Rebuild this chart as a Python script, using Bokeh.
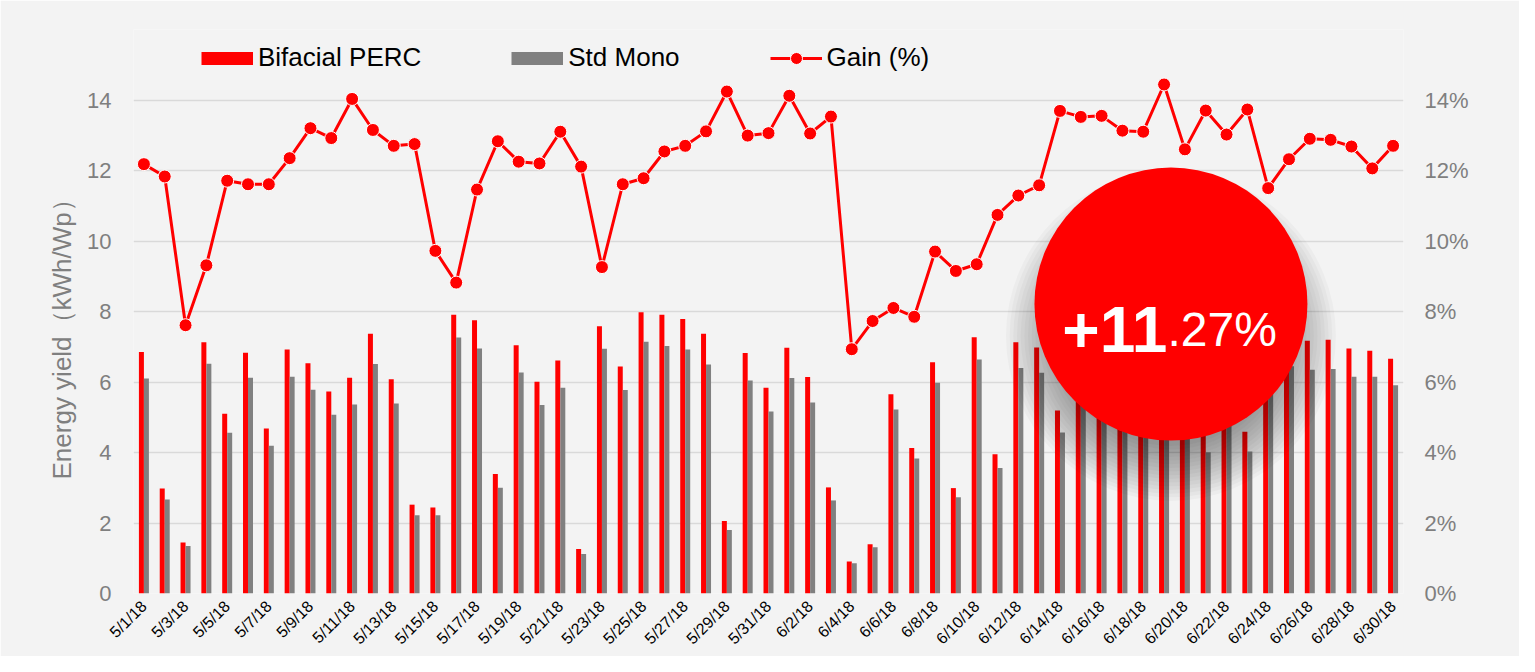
import math
import numpy as np
from bokeh.plotting import figure
from bokeh.models import (Range1d, LinearAxis, FixedTicker, PrintfTickFormatter,
                          Legend, LegendItem, ColumnDataSource, Title)
from bokeh.transform import dodge
from bokeh.core.properties import value
from bokeh.embed import file_html
from bokeh.resources import INLINE

# ---------------- data ----------------
dates = ["5/1/18", "5/2/18", "5/3/18", "5/4/18", "5/5/18", "5/6/18", "5/7/18", "5/8/18",
         "5/9/18", "5/10/18", "5/11/18", "5/12/18", "5/13/18", "5/14/18", "5/15/18",
         "5/16/18", "5/17/18", "5/18/18", "5/19/18", "5/20/18", "5/21/18", "5/22/18",
         "5/23/18", "5/24/18", "5/25/18", "5/26/18", "5/27/18", "5/28/18", "5/29/18",
         "5/30/18", "5/31/18", "6/1/18", "6/2/18", "6/3/18", "6/4/18", "6/5/18", "6/6/18",
         "6/7/18", "6/8/18", "6/9/18", "6/10/18", "6/11/18", "6/12/18", "6/13/18",
         "6/14/18", "6/15/18", "6/16/18", "6/17/18", "6/18/18", "6/19/18", "6/20/18",
         "6/21/18", "6/22/18", "6/23/18", "6/24/18", "6/25/18", "6/26/18", "6/27/18",
         "6/28/18", "6/29/18", "6/30/18"]

bifacial_perc = [6.85, 2.98, 1.45, 7.13, 5.10, 6.83, 4.68, 6.92, 6.53, 5.73, 6.12, 7.37,
                 6.08, 2.52, 2.44, 7.91, 7.75, 3.39, 7.04,
                 6.01, 6.61, 1.26, 7.58, 6.44, 7.98, 7.91, 7.79, 7.37, 2.06, 6.82, 5.84,
                 6.97, 6.14, 3.01, 0.91, 1.40, 5.65, 4.13, 6.56, 2.99, 7.27,
                 3.95, 7.13, 6.98, 5.19, 6.70, 6.93, 5.88, 6.79, 6.41, 6.98,
                 4.56, 6.67, 4.59, 6.58, 7.24, 7.17, 7.20, 6.95, 6.89, 6.66]

std_mono = [6.10, 2.67, 1.35, 6.52, 4.56, 6.12, 4.19, 6.15, 5.78, 5.07, 5.36, 6.51,
            5.39, 2.22, 2.22, 7.26, 6.95, 3.00, 6.27,
            5.35, 5.84, 1.12, 6.94, 5.77, 7.14, 7.02, 6.92, 6.50, 1.80, 6.04, 5.16,
            6.11, 5.42, 2.64, 0.86, 1.31, 5.22, 3.83, 5.98, 2.73, 6.64,
            3.56, 6.40, 6.26, 4.57, 5.90, 6.10, 5.20, 6.00, 5.60, 6.20,
            4.01, 5.90, 4.03, 5.90, 6.45, 6.35, 6.37, 6.15, 6.15, 5.91]

gain_pct = [12.18, 11.83, 7.61, 9.31, 11.71, 11.61, 11.61, 12.35, 13.20, 12.92, 14.03,
            13.15, 12.70, 12.75, 9.72, 8.82, 11.46, 12.83, 12.25,
            12.20, 13.10, 12.11, 9.26, 11.61, 11.78, 12.54, 12.70, 13.11, 14.24, 12.99, 13.06,
            14.12, 13.05, 13.53, 6.93, 7.73, 8.10, 7.85, 9.70, 9.15, 9.34,
            10.74, 11.29, 11.58, 13.69, 13.52, 13.55, 13.13, 13.10, 14.44, 12.60,
            13.70, 13.02, 13.73, 11.50, 12.32, 12.90, 12.87, 12.68, 12.06, 12.70]

left_ticks = [0, 2, 4, 6, 8, 10, 12, 14]
right_ticks = [0, 2, 4, 6, 8, 10, 12, 14]
series_names = ["Bifacial PERC", "Std Mono", "Gain (%)"]
y_label = "Energy yield（kWh/Wp）"
badge_main = "+11"
badge_dec = ".27%"

# ---------------- styling ----------------
RED = "#ff0000"
GRAY = "#808080"
BG = "#f3f3f3"
AXIS_GRAY = "#7f7f7f"
FONT = "Liberation Sans"
Y_TOP = 16.0   # frame extends above the 14 gridline to host the legend

idx = list(range(len(dates)))
src = ColumnDataSource(dict(x=idx, bif=bifacial_perc, std=std_mono, gain=gain_pct))

p = figure(width=1519, height=656,
           x_range=Range1d(-0.5, len(dates) - 0.5), y_range=Range1d(0, Y_TOP),
           output_backend="svg", toolbar_location=None,
           min_border_left=133, min_border_right=116, min_border_top=29, min_border_bottom=62,
           background_fill_color=BG, border_fill_color=BG, outline_line_color=None)
p.extra_y_ranges = {"gain": Range1d(0, Y_TOP)}

# left axis
ly = p.yaxis[0]
ly.ticker = FixedTicker(ticks=left_ticks)
ly.major_label_text_font = FONT
ly.major_label_text_font_size = "22px"
ly.major_label_text_color = AXIS_GRAY
ly.major_label_standoff = 22
ly.axis_line_color = None
ly.major_tick_line_color = None
ly.minor_tick_line_color = None
ly.major_tick_out = 0
ly.major_tick_in = 0

# left axis title (side title anchored from the bottom of the frame)
yt = Title(text=y_label, align="left", offset=114, standoff=16,
           text_font=FONT, text_font_size="26px", text_font_style="normal",
           text_color=AXIS_GRAY)
p.add_layout(yt, "left")

# right axis
ry = LinearAxis(y_range_name="gain", ticker=FixedTicker(ticks=right_ticks),
                formatter=PrintfTickFormatter(format="%d%%"))
ry.major_label_text_font = FONT
ry.major_label_text_font_size = "22px"
ry.major_label_text_color = AXIS_GRAY
ry.major_label_standoff = 21
ry.axis_line_color = None
ry.major_tick_line_color = None
ry.minor_tick_line_color = None
ry.major_tick_out = 0
ry.major_tick_in = 0
p.add_layout(ry, "right")

# x axis
xa = p.xaxis[0]
label_ticks = idx[::2]
xa.ticker = FixedTicker(ticks=label_ticks)
xa.major_label_overrides = {i: dates[i] for i in label_ticks}
xa.major_label_orientation = math.pi / 4
xa.major_label_text_font = FONT
xa.major_label_text_font_size = "16px"
xa.major_label_text_color = "black"
xa.major_label_standoff = 10
xa.axis_line_color = None
xa.major_tick_line_color = None
xa.minor_tick_line_color = None
xa.major_tick_out = 0
xa.major_tick_in = 0

p.xgrid.grid_line_color = None
p.ygrid.ticker = FixedTicker(ticks=left_ticks)
p.ygrid.grid_line_color = "#d9d9d9"
p.ygrid.grid_line_width = 1.5

# bars
p.vbar(x=dodge("x", -0.12), top="bif", width=0.24, source=src,
       fill_color=RED, line_color=None)
p.vbar(x=dodge("x", 0.12), top="std", width=0.24, source=src,
       fill_color=GRAY, line_color=None)

# gain line
gl = p.line("x", "gain", source=src, y_range_name="gain", line_color=RED, line_width=3)
gs = p.scatter("x", "gain", source=src, y_range_name="gain", size=13,
               fill_color=RED, line_color="white", line_width=1)

# legend swatches: thick lines with no visible data
nan = float("nan")
sw1 = p.line(x=[nan], y=[nan], line_color=RED, line_width=13, line_cap="butt")
sw2 = p.line(x=[nan], y=[nan], line_color=GRAY, line_width=13, line_cap="butt")
legend = Legend(items=[LegendItem(label=series_names[0], renderers=[sw1]),
                       LegendItem(label=series_names[1], renderers=[sw2]),
                       LegendItem(label=series_names[2], renderers=[gl, gs])],
                orientation="horizontal", location=(68, 520),
                glyph_width=52, glyph_height=30, label_standoff=5, spacing=90,
                padding=0, margin=0, background_fill_alpha=0, border_line_color=None,
                label_text_font=FONT, label_text_font_size="26px", label_text_color="black")
p.add_layout(legend)

# badge with soft shadow
cx, cy = 49.33, 8.21
shadow_r = np.linspace(110, 165, 16)
p.scatter(x=[cx] * len(shadow_r), y=[cy - 0.905] * len(shadow_r), size=2 * shadow_r,
          fill_color="black", fill_alpha=0.0275, line_color=None)
p.scatter(x=[cx], y=[cy], size=273, fill_color=RED, line_color=None)
p.text(x=[49.16], y=[7.49], text=[badge_main], text_align="right", text_baseline="alphabetic",
       text_font=value(FONT), text_font_size="64px", text_font_style="bold", text_color="white")
p.text(x=[49.16], y=[7.49], text=[badge_dec], text_align="left", text_baseline="alphabetic",
       text_font=value(FONT), text_font_size="48px", text_color="white")

open("out.html", "w").write(file_html(p, INLINE))
